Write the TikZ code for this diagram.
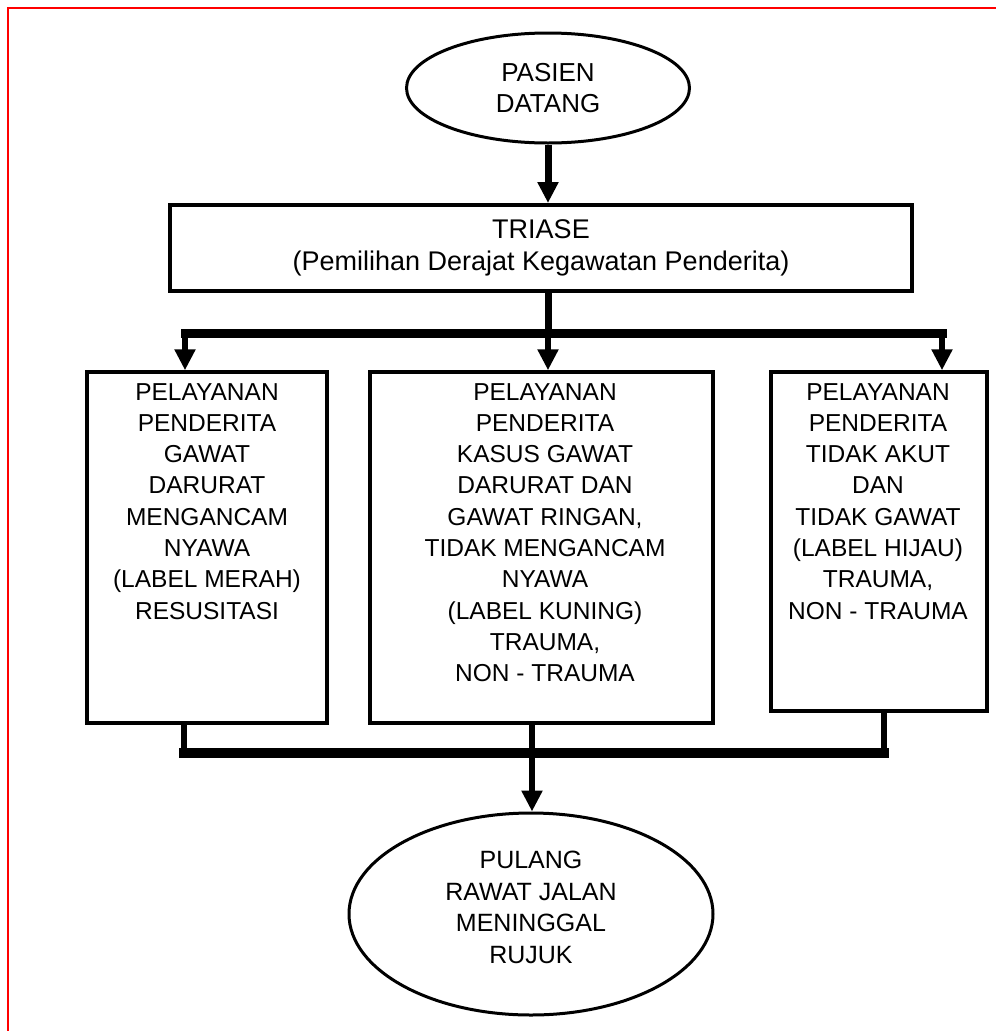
\documentclass[tikz,border=0pt]{standalone}
\usepackage{fontspec}
\setmainfont{Liberation Sans}
\usetikzlibrary{arrows.meta,shapes.geometric}
\begin{document}
\begin{tikzpicture}[x=1pt,y=-1pt,
  box/.style={draw, line width=3.5pt, rectangle, inner sep=0pt},
  oval/.style={draw, line width=3pt, ellipse, inner sep=0pt, align=center},
  boxtxt/.style={anchor=north, align=center, inner sep=0pt, font=\fontsize{24.5}{31.3}\selectfont},
  conn/.style={line width=6pt},
  barline/.style={line width=10pt, line cap=rect},
  arr/.style={line width=6pt, -{Triangle[width=20pt,length=21pt]}},
]
\useasboundingbox (0,0) rectangle (996,1031);
\clip (0,0) rectangle (996,1031);
\draw[red, line width=2pt] (8,8) rectangle (1020,1060);

% nodes
\node[oval, minimum width=283pt, minimum height=110pt, font=\fontsize{26}{31}\selectfont] (start) at (548,88) {PASIEN\\DATANG};
\node[box, line width=4pt, minimum width=742pt, minimum height=86pt, align=center, font=\fontsize{27}{32}\selectfont] (triase) at (541,248) {TRIASE\\(Pemilihan Derajat Kegawatan Penderita)};

\node[box, minimum width=240pt, minimum height=351pt] (lbox) at (207,547.5) {};
\node[box, minimum width=343pt, minimum height=351pt] (mbox) at (541.5,547.5) {};
\node[box, minimum width=216pt, minimum height=339pt] (rbox) at (879,541.5) {};

\node[boxtxt] (ltxt) at (207,383) {PELAYANAN\\PENDERITA\\GAWAT\\DARURAT\\MENGANCAM\\NYAWA\\(LABEL MERAH)\\RESUSITASI};
\node[boxtxt] (mtxt) at (545,383) {PELAYANAN\\PENDERITA\\KASUS GAWAT\\DARURAT DAN\\GAWAT RINGAN,\\TIDAK MENGANCAM\\NYAWA\\(LABEL KUNING)\\TRAUMA,\\NON - TRAUMA};
\node[boxtxt] (rtxt) at (878,383) {PELAYANAN\\PENDERITA\\TIDAK AKUT\\DAN\\TIDAK GAWAT\\(LABEL HIJAU)\\TRAUMA,\\NON - TRAUMA};

\node[oval, minimum width=364pt, minimum height=202pt] (finish) at (531,914) {};
\node[boxtxt, font=\fontsize{25}{31.5}\selectfont] (finishtxt) at (531,851) {PULANG\\RAWAT JALAN\\MENINGGAL\\RUJUK};

% junction coordinates
\coordinate (jT) at (548,333);
\coordinate (bL) at (185,333);
\coordinate (bR) at (942,333);
\coordinate (cL) at (184,753);
\coordinate (cM) at (532,753);
\coordinate (cR) at (884,753);

% top connectors
\draw[arr, line width=7pt] (start.south) -- (start.south |- triase.north);
\draw[conn, line width=7pt] (triase.south -| jT) -- (jT);
\draw[barline, line width=9pt] (bL) -- (bR);
\draw[arr] (bL) -- (bL |- lbox.north);
\draw[arr] (jT) -- (jT |- mbox.north);
\draw[arr] (bR) -- (bR |- rbox.north);

% bottom connectors
\draw[conn] (cL |- lbox.south) -- (cL);
\draw[conn] (cR |- rbox.south) -- (cR);
\draw[barline] (cL) -- (cR);
\draw[conn, line width=5.5pt] (cM |- mbox.south) -- (cM);
\draw[arr, line width=5.5pt] (cM) -- (cM |- finish.north);
\end{tikzpicture}
\end{document}
